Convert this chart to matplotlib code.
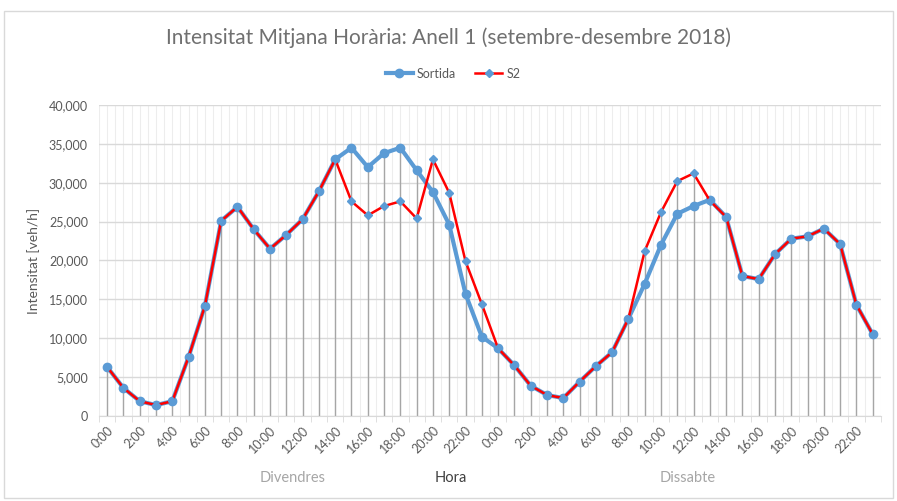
import numpy as np
import matplotlib.pyplot as plt
from matplotlib.ticker import FuncFormatter, MultipleLocator
from matplotlib.lines import Line2D
from matplotlib.patches import Rectangle

plt.rcParams['font.family'] = ['Lato', 'DejaVu Sans']

# dades: 48 hores (divendres + dissabte)
hores = [f"{h}:00" for h in range(24)] * 2
sortida = [6300, 3600, 1900, 1400, 1900, 7600, 14150, 25100, 26900, 24000,
           21500, 23300, 25300, 28900, 33000, 34500, 32000, 33800, 34500, 31600,
           28800, 24600, 15700, 10200,
           8700, 6500, 3900, 2700, 2300, 4400, 6400, 8200, 12500, 17000,
           22000, 26000, 27000, 27800, 25600, 18000, 17600, 20800, 22800, 23100,
           24100, 22100, 14300, 10500]
s2 = [6300, 3600, 1900, 1400, 1900, 7600, 14150, 25100, 26900, 24000,
      21500, 23300, 25300, 28900, 33000, 27600, 25800, 27000, 27600, 25400,
      33000, 28700, 19900, 14400,
      8700, 6500, 3900, 2700, 2300, 4400, 6400, 8200, 12500, 21200,
      26200, 30200, 31200, 27700, 25600, 18000, 17600, 20800, 22800, 23100,
      24100, 22100, 14300, 10500]

blau = '#5B9BD5'
vermell = '#FF0000'
gris = '#595959'

fig = plt.figure(figsize=(8.97, 5.01), dpi=100)
fig.patches.append(Rectangle((0.004, 0.006), 0.992, 0.972, transform=fig.transFigure,
                             fill=False, edgecolor='#D9D9D9', linewidth=1))
ax = fig.add_axes([0.1104, 0.1697, 0.8716, 0.6208])

x = np.arange(len(hores))

# graella
ax.set_ylim(0, 40000)
ax.set_xlim(-0.5, len(hores) - 0.5)
ax.yaxis.set_major_locator(MultipleLocator(5000))
ax.grid(axis='y', color='#D9D9D9', linewidth=1)
for gx in np.arange(-0.5, len(hores), 0.5):
    ax.axvline(gx, color='#EDEDED', linewidth=0.8, zorder=0)
ax.set_axisbelow(True)

# línies de caiguda
ax.vlines(x, 0, np.maximum(sortida, s2), color='#A6A6A6', linewidth=1, zorder=1)

ax.plot(x, sortida, color=blau, linewidth=3, marker='o', markersize=6,
        markerfacecolor=blau, markeredgecolor=blau, zorder=3, label='Sortida')
ax.plot(x, s2, color=vermell, linewidth=1.8, marker='D', markersize=4,
        markerfacecolor=blau, markeredgecolor=blau, zorder=4, label='S2')

for sp in ['top', 'right', 'left']:
    ax.spines[sp].set_visible(False)
ax.spines['bottom'].set_color('#D9D9D9')

ax.yaxis.set_major_formatter(FuncFormatter(lambda v, p: f"{int(v):,}"))
ax.tick_params(axis='y', length=0, labelsize=9, labelcolor=gris, pad=8)
ax.set_xticks(x[::2])
ax.set_xticklabels(hores[::2], rotation=45, ha='right', rotation_mode='anchor')
ax.set_xticks(np.arange(-0.5, len(hores), 1), minor=True)
ax.tick_params(axis='x', which='major', length=0, labelsize=9, labelcolor=gris, pad=6)
ax.tick_params(axis='x', which='minor', length=4, color='#D9D9D9')

ax.set_ylabel('Intensitat [veh/h]', fontsize=10, color=gris, labelpad=6)

fig.text(0.503, 0.038, 'Hora', ha='center', fontsize=10.5, color='#404040')
fig.text(0.326, 0.038, 'Divendres', ha='center', fontsize=10.5, color='#A6A6A6')
fig.text(0.767, 0.038, 'Dissabte', ha='center', fontsize=10.5, color='#A6A6A6')

fig.suptitle('Intensitat Mitjana Horària: Anell 1 (setembre-desembre 2018)',
             y=0.945, fontsize=15, color='#707070')

handles = [Line2D([], [], color=blau, linewidth=3, marker='o', markersize=6),
           Line2D([], [], color=vermell, linewidth=1.8, marker='D', markersize=4,
                  markerfacecolor=blau, markeredgecolor=blau)]
fig.legend(handles, ['Sortida', 'S2'], loc='center', bbox_to_anchor=(0.505, 0.853),
           ncol=2, frameon=False, fontsize=9, handlelength=2.2, columnspacing=1.5,
           handletextpad=0.3, labelcolor=gris)

plt.savefig('out.png', dpi=100)
